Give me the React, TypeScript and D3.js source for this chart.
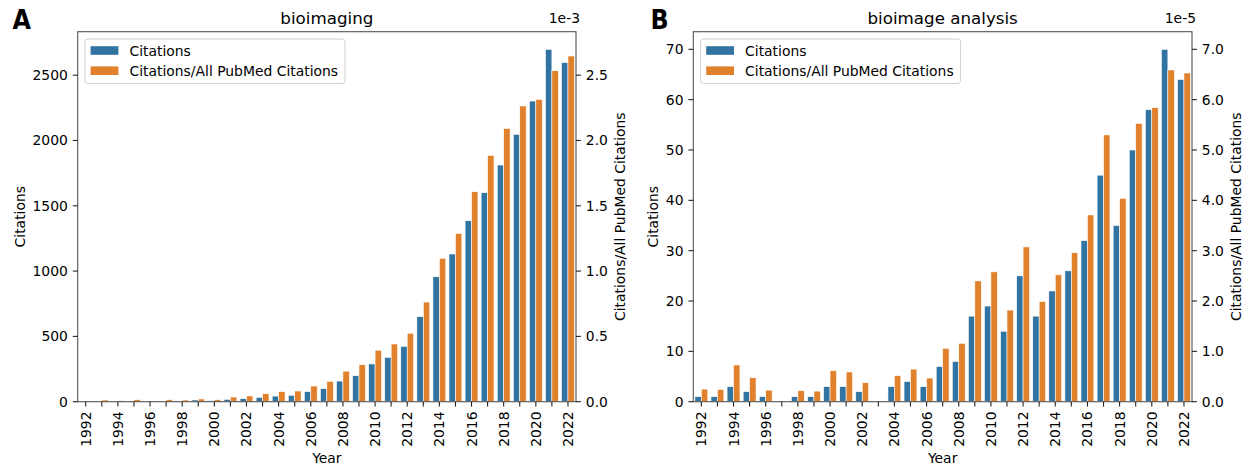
import * as d3 from 'd3';

const years = [
  1992, 1993, 1994, 1995, 1996, 1997, 1998, 1999, 2000, 2001, 2002,
  2003, 2004, 2005, 2006, 2007, 2008, 2009, 2010, 2011, 2012, 2013,
  2014, 2015, 2016, 2017, 2018, 2019, 2020, 2021, 2022,
];

// panel A: "bioimaging"
const imagingCitations = [
  1, 2, 1, 3, 1, 2, 2, 13, 8, 18, 23,
  33, 43, 49, 77, 100, 158, 199, 289, 340, 424, 651,
  957, 1131, 1386, 1600, 1812, 2047, 2302, 2698, 2596,
];
// in units of 1e-3
const imagingRatio = [
  0.004, 0.013, 0.008, 0.015, 0.004, 0.015, 0.013, 0.021, 0.015, 0.036, 0.044,
  0.061, 0.077, 0.082, 0.12, 0.156, 0.234, 0.283, 0.394, 0.442, 0.524, 0.763,
  1.098, 1.289, 1.608, 1.886, 2.093, 2.264, 2.315, 2.534, 2.647,
];

// panel B: "bioimage analysis"
const analysisCitations = [
  1, 1, 3, 2, 1, 0, 1, 1, 3, 3, 2,
  0, 3, 4, 3, 7, 8, 17, 19, 14, 25, 17,
  22, 26, 32, 45, 35, 50, 58, 70, 64,
];
// in units of 1e-5
const analysisRatio = [
  0.25, 0.245, 0.73, 0.476, 0.23, 0, 0.218, 0.21, 0.615, 0.59, 0.377,
  0, 0.516, 0.648, 0.47, 1.06, 1.16, 2.4, 2.58, 1.82, 3.075, 1.99,
  2.52, 2.96, 3.71, 5.3, 4.04, 5.53, 5.84, 6.59, 6.53,
];

const imagingLeftTicks = [0, 500, 1000, 1500, 2000, 2500];
const imagingRightTicks = [0, 0.5, 1.0, 1.5, 2.0, 2.5];
const analysisLeftTicks = [0, 10, 20, 30, 40, 50, 60, 70];
const analysisRightTicks = [0, 1, 2, 3, 4, 5, 6, 7];

const BLUE = '#3274a1';
const ORANGE = '#e1812c';
const FONT = '"DejaVu Sans", sans-serif';
const TICK_FS = 13.9;
const TOP = 31.7;
const BOTTOM = 401.7;

interface PanelProps {
  letter: string;
  letterX: number;
  title: string;
  x0: number;
  x1: number;
  citations: number[];
  ratio: number[];
  exponent: number;
  leftTicks: number[];
  rightTicks: number[];
  ylabelX: number;
}

function Panel({
  letter, letterX, title, x0, x1, citations, ratio, exponent,
  leftTicks, rightTicks, ylabelX,
}: PanelProps) {
  const x = d3.scaleBand<number>()
    .domain(years)
    .range([x0, x1])
    .paddingInner(0.2)
    .paddingOuter(0.1);
  const hue = d3.scaleBand<string>()
    .domain(['c', 'r'])
    .range([0, x.bandwidth()]);

  const leftMax = (d3.max(citations) ?? 1) * 1.05;
  const y = d3.scaleLinear().domain([0, leftMax]).range([BOTTOM, TOP]);
  // twin axis scaled so that 1 citation <-> 1e-6
  const yr = d3.scaleLinear()
    .domain([0, leftMax * 1e-6 / Math.pow(10, exponent)])
    .range([BOTTOM, TOP]);
  const fmt = d3.format('.1f');

  const midX = (x0 + x1) / 2;
  const midY = (TOP + BOTTOM) / 2;
  const tickLen = 4.9;
  const pad = 4.9;

  return (
    <g fontFamily={FONT}>
      <text x={letterX} y={29} fontSize={26.5} fontWeight="bold" fontFamily='"DejaVu Sans Condensed", "DejaVu Sans", sans-serif' fontStretch="condensed" fill="#000">{letter}</text>
      <text x={midX} y={24} fontSize={16.7} textAnchor="middle">{title}</text>
      <text x={x1 + 4} y={23} fontSize={TICK_FS} textAnchor="end">{`1e${exponent}`}</text>

      {years.map((yr0, i) => {
        const bx = x(yr0) ?? 0;
        return (
          <g key={yr0}>
            {citations[i] > 0 && (
              <rect
                x={bx + (hue('c') ?? 0)}
                y={y(citations[i])}
                width={hue.bandwidth()}
                height={BOTTOM - y(citations[i])}
                fill={BLUE}
                stroke="#fff"
                strokeWidth={0.6}
              />
            )}
            {ratio[i] > 0 && (
              <rect
                x={bx + (hue('r') ?? 0)}
                y={yr(ratio[i])}
                width={hue.bandwidth()}
                height={BOTTOM - yr(ratio[i])}
                fill={ORANGE}
                stroke="#fff"
                strokeWidth={0.6}
              />
            )}
          </g>
        );
      })}

      {/* frame */}
      <rect x={x0} y={TOP} width={x1 - x0} height={BOTTOM - TOP} fill="none" stroke="#555" strokeWidth={1.1} />

      {/* x ticks */}
      {years.map((yv, i) => {
        const cx = (x(yv) ?? 0) + x.bandwidth() / 2;
        return (
          <g key={'xt' + yv}>
            <line x1={cx} x2={cx} y1={BOTTOM} y2={BOTTOM + tickLen} stroke="#222" strokeWidth={1.1} />
            {i % 2 === 0 && (
              <text
                transform={`translate(${cx},${BOTTOM + tickLen + pad}) rotate(-90)`}
                fontSize={TICK_FS}
                textAnchor="end"
                dominantBaseline="central"
              >{yv}</text>
            )}
          </g>
        );
      })}
      <text x={midX} y={463} fontSize={TICK_FS} textAnchor="middle">Year</text>

      {/* left axis */}
      {leftTicks.map(t => (
        <g key={'lt' + t}>
          <line x1={x0 - tickLen} x2={x0} y1={y(t)} y2={y(t)} stroke="#222" strokeWidth={1.1} />
          <text x={x0 - tickLen - pad} y={y(t)} fontSize={TICK_FS} textAnchor="end" dominantBaseline="central">{t}</text>
        </g>
      ))}
      <text transform={`translate(${ylabelX},${midY}) rotate(-90)`} fontSize={TICK_FS} textAnchor="middle" dominantBaseline="central">Citations</text>

      {/* right axis */}
      {rightTicks.map(t => (
        <g key={'rt' + t}>
          <line x1={x1} x2={x1 + tickLen} y1={yr(t)} y2={yr(t)} stroke="#222" strokeWidth={1.1} />
          <text x={x1 + tickLen + pad} y={yr(t)} fontSize={TICK_FS} textAnchor="start" dominantBaseline="central">{fmt(t)}</text>
        </g>
      ))}
      <text transform={`translate(${x1 + 44},${midY}) rotate(-90)`} fontSize={TICK_FS} textAnchor="middle" dominantBaseline="central">Citations/All PubMed Citations</text>

      {/* legend */}
      <g transform={`translate(${x0 + 7.3},${TOP + 7.3})`}>
        <rect x={0} y={0} width={260} height={44.5} rx={3} fill="#fff" fillOpacity={0.8} stroke="#d0d0d0" strokeWidth={1} />
        <rect x={5.6} y={11.5 - 4.3} width={27.8} height={8.6} fill={BLUE} />
        <text x={44.5} y={11.5} fontSize={TICK_FS} dominantBaseline="central">Citations</text>
        <rect x={5.6} y={31.7 - 4.3} width={27.8} height={8.6} fill={ORANGE} />
        <text x={44.5} y={31.7} fontSize={TICK_FS} dominantBaseline="central">Citations/All PubMed Citations</text>
      </g>
    </g>
  );
}

export default function App() {
  return (
    <svg
      width={1247}
      height={465}
      style={{ position: 'absolute', left: 0, top: 0, background: '#fff' }}
    >
      <rect width={1247} height={465} fill="#fff" />
      <Panel
        letter="A"
        letterX={12.5}
        title="bioimaging"
        x0={77.7}
        x1={576}
        citations={imagingCitations}
        ratio={imagingRatio}
        exponent={-3}
        leftTicks={imagingLeftTicks}
        rightTicks={imagingRightTicks}
        ylabelX={20}
      />
      <Panel
        letter="B"
        letterX={650.5}
        title="bioimage analysis"
        x0={693.3}
        x1={1192}
        citations={analysisCitations}
        ratio={analysisRatio}
        exponent={-5}
        leftTicks={analysisLeftTicks}
        rightTicks={analysisRightTicks}
        ylabelX={653.3}
      />
    </svg>
  );
}
